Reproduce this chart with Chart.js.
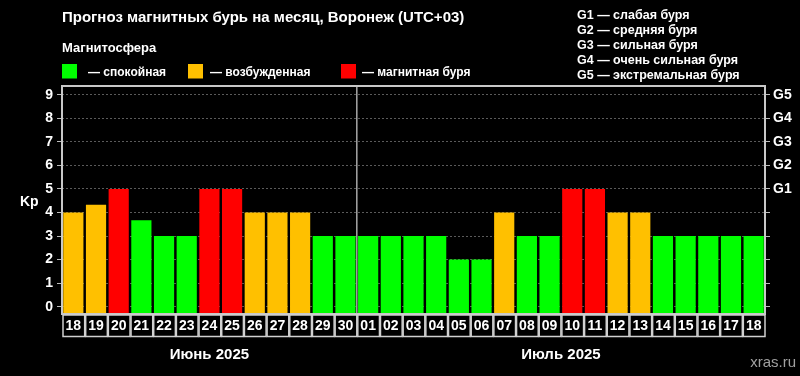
<!DOCTYPE html>
<html>
<head>
<meta charset="utf-8">
<script src="https://cdn.jsdelivr.net/npm/chart.js@4"></script>
<style>
  html, body { margin: 0; padding: 0; background: #000; }
  #wrap { width: 800px; height: 376px; }
</style>
</head>
<body>
<div id="wrap"><canvas id="kpChart" width="800" height="376"></canvas></div>
<script>
// Forecast data
const days = ['18', '19', '20', '21', '22', '23', '24', '25', '26', '27', '28', '29', '30',
    '01', '02', '03', '04', '05', '06', '07', '08', '09', '10', '11', '12', '13', '14', '15', '16', '17', '18'];
const kpValues = [4, 4.33, 5, 3.67, 3, 3, 5, 5, 4, 4, 4, 3, 3,
    3, 3, 3, 3, 2, 2, 4, 3, 3, 5, 5, 4, 4, 3, 3, 3, 3, 3];
const monthNames = ['Июнь 2025', 'Июль 2025'];
const monthDayCounts = [13, 18];
const kpTicks = [0, 1, 2, 3, 4, 5, 6, 7, 8, 9];
const gTicks = ['', '', '', '', '', 'G1', 'G2', 'G3', 'G4', 'G5'];
const stateNames = ['спокойная', 'возбужденная', 'магнитная буря'];
const gScaleNotes = ['G1 — слабая буря', 'G2 — средняя буря', 'G3 — сильная буря',
    'G4 — очень сильная буря', 'G5 — экстремальная буря'];

const chartTitle = 'Прогноз магнитных бурь на месяц, Воронеж (UTC+03)';
const legendTitle = 'Магнитосфера';

const GREEN = '#00ff00';
const ORANGE = '#ffc000';
const RED = '#ff0000';
const stateColors = [GREEN, ORANGE, RED];
const FONT = "'Liberation Sans', Arial, sans-serif";
const Y_MIN = -0.31;
const Y_MAX = 9.37;

function colorFor(v) {
    if (v >= 5) return RED;
    if (v >= 4) return ORANGE;
    return GREEN;
}

// Titles, legends, label boxes and frame
const decorPlugin = {
    id: 'decor',
    afterDatasetsDraw(chart) {
        const ctx = chart.ctx;
        const area = chart.chartArea;
        const xs = chart.scales.x;
        const step = xs.getPixelForValue(1) - xs.getPixelForValue(0);
        ctx.save();

        // separator between months
        const sepX = (xs.getPixelForValue(monthDayCounts[0] - 1) + xs.getPixelForValue(monthDayCounts[0])) / 2;
        ctx.strokeStyle = '#a8a8a8';
        ctx.lineWidth = 1.5;
        ctx.beginPath();
        ctx.moveTo(sepX, area.top);
        ctx.lineTo(sepX, area.bottom);
        ctx.stroke();

        // plot frame
        ctx.strokeStyle = '#c8c8c8';
        ctx.lineWidth = 2;
        ctx.strokeRect(area.left, area.top, area.right - area.left, area.bottom - area.top);

        // day label boxes
        ctx.strokeStyle = '#d0d0d0';
        ctx.lineWidth = 1.5;
        days.forEach((d, i) => {
            const cx = xs.getPixelForValue(i);
            ctx.strokeRect(cx - step / 2 + 1, area.bottom + 1, step - 1, 21.5);
        });

        ctx.fillStyle = '#fff';
        ctx.textBaseline = 'alphabetic';

        // title
        ctx.font = 'bold 15px ' + FONT;
        ctx.textAlign = 'left';
        ctx.fillText(chartTitle, 62, 22);

        // state legend
        ctx.font = 'bold 13px ' + FONT;
        ctx.fillText(legendTitle, 62, 52);
        ctx.font = 'bold 12px ' + FONT;
        const boxX = [62, 188, 341];
        const textX = [88, 210, 362];
        stateNames.forEach((name, i) => {
            ctx.fillStyle = stateColors[i];
            ctx.fillRect(boxX[i], 64, 15, 14.5);
            ctx.fillStyle = '#fff';
            ctx.fillText('— ' + name, textX[i], 76);
        });

        // G scale notes
        ctx.font = 'bold 12.5px ' + FONT;
        gScaleNotes.forEach((t, i) => {
            ctx.fillText(t, 577, 18.5 + i * 15);
        });

        // Kp label
        ctx.font = 'bold 14px ' + FONT;
        ctx.fillText('Kp', 20, 206);

        // month labels
        ctx.font = 'bold 15px ' + FONT;
        ctx.textAlign = 'center';
        let start = 0;
        monthNames.forEach((m, i) => {
            const end = start + monthDayCounts[i] - 1;
            const cx = (xs.getPixelForValue(start) + xs.getPixelForValue(end)) / 2;
            ctx.fillText(m, cx, 359);
            start += monthDayCounts[i];
        });

        // watermark
        ctx.fillStyle = '#a0a0a0';
        ctx.font = '15px ' + FONT;
        ctx.textAlign = 'right';
        ctx.fillText('xras.ru', 796, 367);

        ctx.restore();
    }
};

const bgPlugin = {
    id: 'bg',
    beforeDraw(chart) {
        const ctx = chart.ctx;
        ctx.save();
        ctx.fillStyle = '#000';
        ctx.fillRect(0, 0, chart.width, chart.height);
        ctx.restore();
    }
};

const kpCtx = document.getElementById('kpChart').getContext('2d');
const kpChart = new Chart(kpCtx, {
    type: 'bar',
    data: {
        labels: days,
        datasets: [{
            label: 'Kp',
            data: kpValues,
            backgroundColor: kpValues.map(colorFor),
            borderWidth: 0,
            base: Y_MIN,
            categoryPercentage: 1,
            barPercentage: 0.89
        }]
    },
    options: {
        responsive: false,
        animation: false,
        layout: {
            padding: { top: 86, left: 0, right: 0, bottom: 0 }
        },
        plugins: {
            legend: { display: false },
            tooltip: { enabled: false }
        },
        scales: {
            x: {
                grid: { display: false, drawTicks: false },
                border: { display: false },
                ticks: {
                    color: '#fff',
                    font: { family: FONT, size: 14, weight: 'bold' },
                    padding: 4,
                    maxRotation: 0,
                    autoSkip: false
                },
                afterFit(scale) { scale.height = 62; }
            },
            y: {
                position: 'left',
                min: Y_MIN,
                max: Y_MAX,
                afterBuildTicks(scale) {
                    scale.ticks = kpTicks.map(v => ({ value: v }));
                },
                grid: {
                    color: '#5a5a5a',
                    tickColor: '#bdbdbd',
                    tickLength: 5,
                    lineWidth: 1
                },
                border: { display: false, dash: [2, 2] },
                ticks: {
                    color: '#fff',
                    font: { family: FONT, size: 14, weight: 'bold' },
                    padding: 4,
                    callback: (v) => String(v)
                },
                afterFit(scale) { scale.width = 62; }
            },
            y2: {
                position: 'right',
                min: Y_MIN,
                max: Y_MAX,
                afterBuildTicks(scale) {
                    scale.ticks = kpTicks.map(v => ({ value: v }));
                },
                grid: {
                    drawOnChartArea: false,
                    tickColor: '#bdbdbd',
                    tickLength: 5
                },
                border: { display: false },
                ticks: {
                    color: '#fff',
                    font: { family: FONT, size: 14, weight: 'bold' },
                    padding: 3,
                    callback: (v, i) => gTicks[i]
                },
                afterFit(scale) { scale.width = 35; }
            }
        }
    },
    plugins: [bgPlugin, decorPlugin]
});
</script>
</body>
</html>
